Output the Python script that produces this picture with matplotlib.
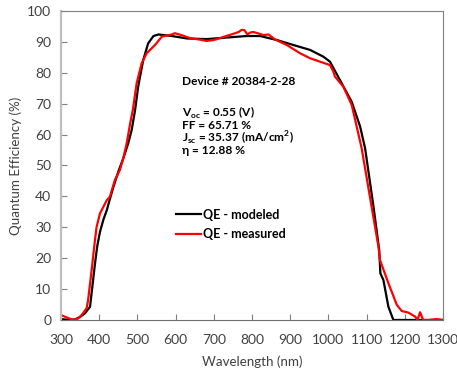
import numpy as np
import matplotlib
matplotlib.use('Agg')
import matplotlib.pyplot as plt

plt.rcParams['font.family'] = ['Lato', 'DejaVu Sans']

# modeled QE (black)
wl_mod = [300, 320, 337, 350, 363, 376, 382, 389, 395, 402, 411, 420, 430, 437, 450,
          463, 476, 485, 494, 502, 515, 528, 542, 555, 590, 630, 681, 734, 786, 821,
          865, 908, 952, 987, 1004, 1030, 1061, 1083, 1096, 1118, 1133, 1136, 1144,
          1157, 1170, 1200, 1250, 1300]
qe_mod = [0.3, 0, 0.2, 1.0, 2.2, 4.3, 10.8, 18.3, 24, 28.5, 32.5, 35.6, 40, 43, 48,
          52.3, 57.2, 61.5, 68, 75.5, 84, 89.5, 91.9, 92.4, 91.9, 91.1, 90.9, 91.4, 91.9, 91.9,
          90.6, 89, 87.4, 85.2, 83.6, 77.7, 70.6, 62.6, 55.6, 36.7, 22.6, 15.1, 12.9,
          4.3, 0, 0, 0, 0]

# measured QE (red)
wl_meas = [300, 315, 332, 345, 354, 367, 371, 380, 389, 393, 402, 420, 428, 441, 454,
           463, 472, 481, 488, 498, 511, 524, 546, 564, 590, 598, 615, 638, 660, 681,
           700, 716, 735, 751, 765, 773, 780, 788, 795, 803, 815, 830, 843, 860, 891,
           926, 952, 978, 1004, 1013, 1017, 1039, 1061, 1087, 1113, 1131, 1135, 1157,
           1179, 1192, 1209, 1227, 1233, 1240, 1248, 1263, 1283, 1300]
qe_meas = [1.6, 0.8, 0, 0.5, 1.6, 3.8, 6.5, 16, 26, 30, 34.5, 38.8, 39.9, 45.3, 48.5,
           52.3, 57.2, 63.6, 68, 76.6, 83, 86.3, 89, 91.7, 92.4, 92.8, 92.2, 91.2, 90.8, 90.3,
           90.6, 91.2, 92, 92.6, 93.2, 93.9, 93.8, 92.4, 93, 93.2, 92.8, 92.2, 92.4, 90.8, 89,
           86.3, 84.7, 83.6, 82.5, 80.4, 78.8, 75.5, 69.6, 55.6, 36.7, 23.7, 19.4, 11.9,
           4.9, 2.9, 2.4, 1.1, 0, 2.5, 0, 0, 0.3, 0]

x_ticks = np.arange(300, 1301, 100)
y_ticks = np.arange(0, 101, 10)

fig = plt.figure(figsize=(4.57, 3.71), dpi=100)
ax = fig.add_axes([0.1335, 0.1375, 0.8359, 0.8329])

ax.plot(wl_mod, qe_mod, color='black', lw=1.6, label='QE - modeled')
ax.plot(wl_meas, qe_meas, color='#ff0000', lw=1.6, label='QE - measured')

ax.set_xlim(300, 1300)
ax.set_ylim(0, 100)
ax.set_xticks(x_ticks)
ax.set_yticks(y_ticks)
ax.tick_params(direction='in', length=4, width=0.8, color='#808080',
               labelsize=10, labelcolor='#404040')
ax.tick_params(axis='x', pad=10)
ax.tick_params(axis='y', pad=7)

for side in ['top', 'right']:
    ax.spines[side].set_color('#808080')
    ax.spines[side].set_linewidth(0.8)
ax.spines['bottom'].set_color('#707070')
ax.spines['left'].set_color('#bfbfbf')
ax.spines['left'].set_linewidth(1.6)

ax.set_xlabel('Wavelength (nm)', fontsize=9.6, color='#404040', labelpad=7)
ax.set_ylabel('Quantum Efficiency (%)', fontsize=9.6, color='#404040', labelpad=4)

txt = dict(fontsize=8.6, fontweight='bold', color='black', va='baseline', ha='left')
ax.text(617, 76.0, 'Device # 20384-2-28', **txt)
ax.text(617, 65.7, r'V$_{\mathregular{oc}}$ = 0.55 (V)', **txt)
ax.text(617, 61.9, 'FF = 65.71 %', **txt)
ax.text(617, 57.6, r'J$_{\mathregular{sc}}$ = 35.37 (mA/cm$^{\mathregular{2}}$)', **txt)
ax.text(617, 53.8, 'η = 12.88 %', **txt)

leg = ax.legend(loc='upper left', bbox_to_anchor=(0.302, 0.36), frameon=False,
                handlelength=2.0, handletextpad=0.15, labelspacing=0.6,
                borderpad=0, borderaxespad=0, prop={'size': 9, 'weight': 'bold'})

fig.savefig('out.png', dpi=100)
